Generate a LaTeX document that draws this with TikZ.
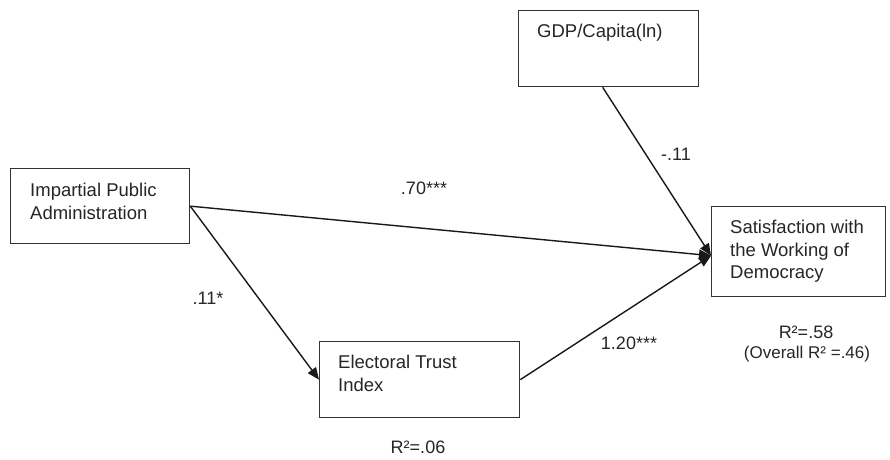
\documentclass[tikz,border=0pt]{standalone}
\usepackage{fontspec}
\setmainfont{Liberation Sans}
\usetikzlibrary{arrows.meta,positioning}
\begin{document}
\begin{tikzpicture}[x=1pt,y=-1pt,
  box/.style={draw=black!80,line width=1.3pt,rectangle,inner sep=0pt,anchor=north west},
  boxtext/.style={anchor=north west,inner sep=0pt,align=left,text=black!85,font=\fontsize{18.5}{22.5}\selectfont},
  lbl/.style={anchor=base,inner sep=0pt,text=black!85,font=\fontsize{18}{21}\selectfont},
  path/.style={draw=black!90,line width=1.4pt,-{Triangle[length=12pt,width=10pt]}}]
\useasboundingbox[fill=white] (0,0) rectangle (890,459);
% boxes
\node[box,minimum width=179pt,minimum height=75pt] (ipa) at (10,168) {};
\node[box,minimum width=180pt,minimum height=76pt] (gdp) at (518,10) {};
\node[box,minimum width=174pt,minimum height=90pt] (sat) at (711,206) {};
\node[box,minimum width=200pt,minimum height=76pt] (et) at (319,341) {};
% box texts
\node[boxtext] (ipat) at ([shift={(20pt,-15pt)}]ipa.north west) {Impartial Public\\Administration};
\node[boxtext] (gdpt) at ([shift={(19pt,-14pt)}]gdp.north west) {GDP/Capita(ln)};
\node[boxtext] (satt) at ([shift={(19pt,-14pt)}]sat.north west) {Satisfaction with\\the Working of\\Democracy};
\node[boxtext] (ett) at ([shift={(19pt,-14pt)}]et.north west) {Electoral Trust\\Index};
% connection points
\coordinate (satin) at ([yshift=-4pt]sat.west);
\coordinate (gdpout) at ([xshift=-6pt]gdp.south);
% paths
\draw[path] (ipa.east) -- (satin);
\draw[path] (ipa.east) -- (et.west);
\draw[path] (et.east) -- (satin);
\draw[path] (gdpout) -- (satin);
% labels
\node[lbl] (l1) at (424,194) {.70***};
\node[lbl] (l2) at (676,160) {-.11};
\node[lbl] (l3) at (208,304) {.11*};
\node[lbl] (l4) at (629,349) {1.20***};
\node[lbl] (r1) at (806,338) {R²=.58};
\node[lbl,font=\fontsize{17}{20}\selectfont] (r2) at (807,358) {(Overall R² =.46)};
\node[lbl] (r3) at (418,453) {R²=.06};
\end{tikzpicture}
\end{document}
